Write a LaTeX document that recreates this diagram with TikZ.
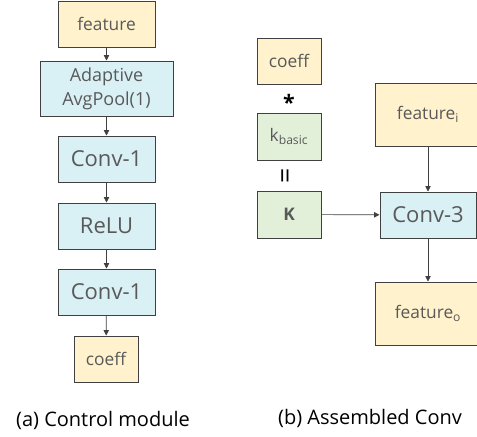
\documentclass[tikz,border=0pt]{standalone}
\usepackage{fontspec}
\setmainfont{Open Sans}
\usepackage{tikz}
\usetikzlibrary{arrows.meta}

\definecolor{featfill}{RGB}{255,242,204}
\definecolor{opfill}{RGB}{217,240,245}
\definecolor{kfill}{RGB}{226,240,217}
\definecolor{boxline}{RGB}{64,64,64}
\definecolor{boxtext}{RGB}{89,89,89}

\tikzset{
  blk/.style={draw=boxline, line width=0.75pt, inner sep=0pt, align=center, text=boxtext},
  featbox/.style={blk, fill=featfill},
  opbox/.style={blk, fill=opfill},
  kbox/.style={blk, fill=kfill},
  flow/.style={draw=boxline, line width=0.5pt, -{Triangle[length=4pt,width=4pt]}},
}

\begin{document}
\begin{tikzpicture}[x=0.75pt,y=0.75pt,yscale=-1,xscale=1]
\useasboundingbox (0,0) rectangle (477,436);

% control module
\node (feat) [featbox, minimum width=72.75pt, minimum height=34.5pt, font=\fontsize{13}{15}\selectfont] at (106.5,24) {feature};
\node (pool) [opbox, minimum width=99.75pt, minimum height=41.25pt, font=\fontsize{13.5}{18}\selectfont] at (106.5,88.5) {Adaptive\\AvgPool(1)};
\node (convA) [opbox, minimum width=72.75pt, minimum height=34.5pt, font=\fontsize{16.5}{18}\selectfont] at (106.5,159) {Conv-1};
\node (relu) [opbox, minimum width=72.75pt, minimum height=34.5pt, font=\fontsize{16.5}{18}\selectfont] at (106.5,226) {ReLU};
\node (convB) [opbox, minimum width=72.75pt, minimum height=34.5pt, font=\fontsize{16.5}{18}\selectfont] at (106.5,292) {Conv-1};
\node (coeffA) [featbox, minimum width=48pt, minimum height=34.5pt, font=\fontsize{13}{15}\selectfont] at (106,359) {coeff};

\draw [flow] (feat) -- (pool);
\draw [flow] (pool) -- (convA);
\draw [flow] (convA) -- (relu);
\draw [flow] (relu) -- (convB);
\draw [flow] (convB) -- (coeffA);

% assembled conv
\node (coeffB) [featbox, minimum width=48pt, minimum height=34.5pt, font=\fontsize{13}{15}\selectfont] at (289,61) {coeff};
\node (times) [font=\fontsize{16}{18}\selectfont\bfseries] at (289,102) {*};
\node (kbasic) [kbox, minimum width=48pt, minimum height=35.25pt, font=\fontsize{13}{15}\selectfont] at (289,136.5) {k\textsubscript{basic}};
\node (equal) [rotate=90, font=\fontsize{20}{22}\selectfont] at (288,176) {=};
\node (kappa) [kbox, minimum width=48pt, minimum height=35.25pt, font=\fontsize{13}{15}\selectfont\bfseries] at (289,214.5) {K};

\node (featI) [featbox, minimum width=79.5pt, minimum height=47.25pt, font=\fontsize{13}{15}\selectfont] at (428,114.5) {feature\textsubscript{i}};
\node (conv3) [opbox, minimum width=72pt, minimum height=34.5pt, font=\fontsize{16.5}{18}\selectfont] at (428,215) {Conv-3};
\node (featO) [featbox, minimum width=79.5pt, minimum height=47.25pt, font=\fontsize{13}{15}\selectfont] at (428,313.5) {feature\textsubscript{o}};

\draw [flow] (kappa) -- (conv3);
\draw [flow] (featI) -- (conv3);
\draw [flow] (conv3) -- (featO);

% captions
\node (capA) [font=\fontsize{15}{18}\selectfont] at (103,420) {(a) Control module};
\node (capB) [font=\fontsize{15}{18}\selectfont] at (370,418) {(b) Assembled Conv};

\end{tikzpicture}
\end{document}
